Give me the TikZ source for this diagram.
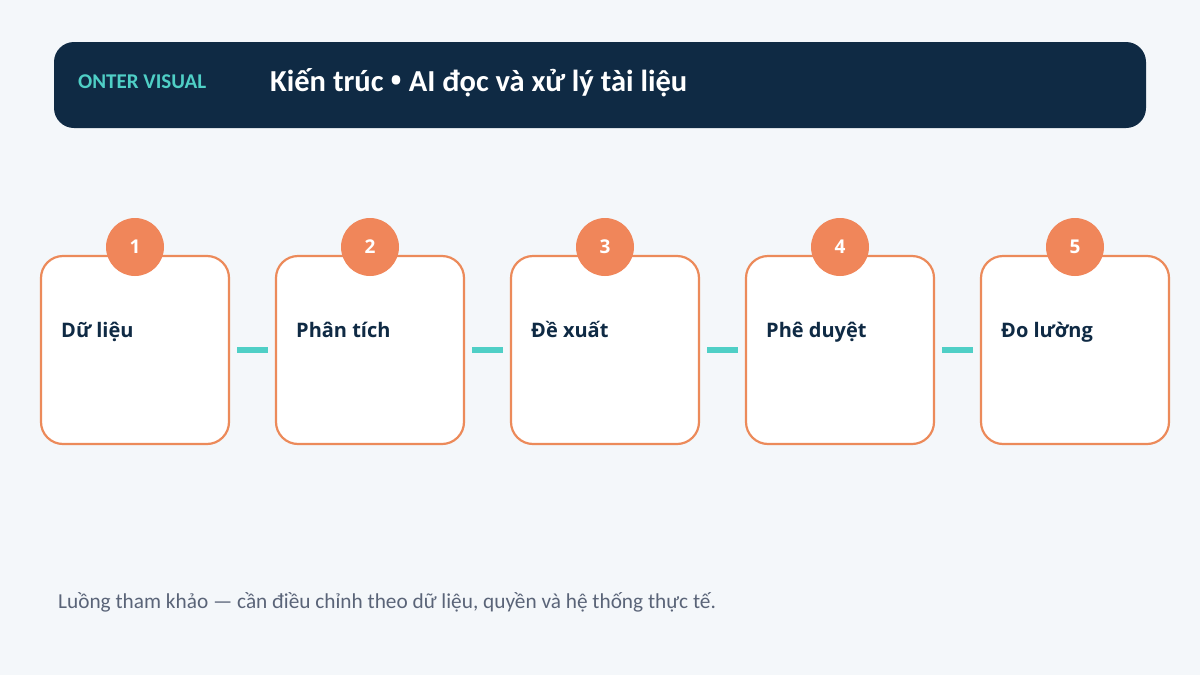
\documentclass[tikz,border=0pt]{standalone}
\usepackage{fontspec}
\setmainfont{Carlito}
\newfontfamily\boxfont{Open Sans}
\definecolor{bg}{HTML}{F4F7FA}
\definecolor{navy}{HTML}{0F2A44}
\definecolor{teal}{HTML}{4FCFC6}
\definecolor{orange}{HTML}{EC8A5A}
\definecolor{orangefill}{HTML}{F0865A}
\definecolor{footgray}{HTML}{5A6478}
\tikzset{
  stepbox/.style={draw=orange, line width=2.2pt, fill=white, rounded corners=22pt, minimum width=188pt, minimum height=188pt, inner sep=0pt},
  badge/.style={circle, fill=orangefill, minimum size=58pt, inner sep=0pt, text=white, font=\boxfont\bfseries\fontsize{19}{22}\selectfont},
  steplabel/.style={anchor=base west, inner sep=0pt, text=navy, font=\boxfont\bfseries\fontsize{20}{24}\selectfont},
  conn/.style={draw=teal, line width=6pt, shorten <=7pt, shorten >=7pt}
}
\begin{document}
\begin{tikzpicture}[x=1pt,y=-1pt]
\useasboundingbox (0,0) rectangle (1200,675);
\fill[bg] (0,0) rectangle (1200,675);
\node[fill=navy, rounded corners=20pt, minimum width=1092pt, minimum height=86pt, inner sep=0pt] (header) at (600,85) {};
\node[anchor=base west, inner sep=0pt, text=teal, font=\bfseries\fontsize{21}{24}\selectfont] (brand) at (78,88) {ONTER VISUAL};
\node[anchor=base west, inner sep=0pt, text=white, font=\bfseries\fontsize{30.5}{34}\selectfont] (title) at (270,91) {Kiến trúc {\boxfont •} AI đọc và xử lý tài liệu};
\foreach \i/\t in {1/Dữ liệu,2/Phân tích,3/Đề xuất,4/Phê duyệt,5/Đo lường}{
  \node[stepbox] (b\i) at ({135+235*(\i-1)},350) {};
  \node[badge] (c\i) at ({135+235*(\i-1)},247) {\i};
  \node[steplabel] (l\i) at ({61+235*(\i-1)},337) {\t};
}
\foreach \i/\j in {1/2,2/3,3/4,4/5}{
  \draw[conn] (b\i) -- (b\j);
}
\node[anchor=base west, inner sep=0pt, text=footgray, font=\fontsize{21.3}{24}\selectfont] (foot) at (58,608) {Luồng tham khảo — cần điều chỉnh theo dữ liệu, quyền và hệ thống thực tế.};
\end{tikzpicture}
\end{document}
